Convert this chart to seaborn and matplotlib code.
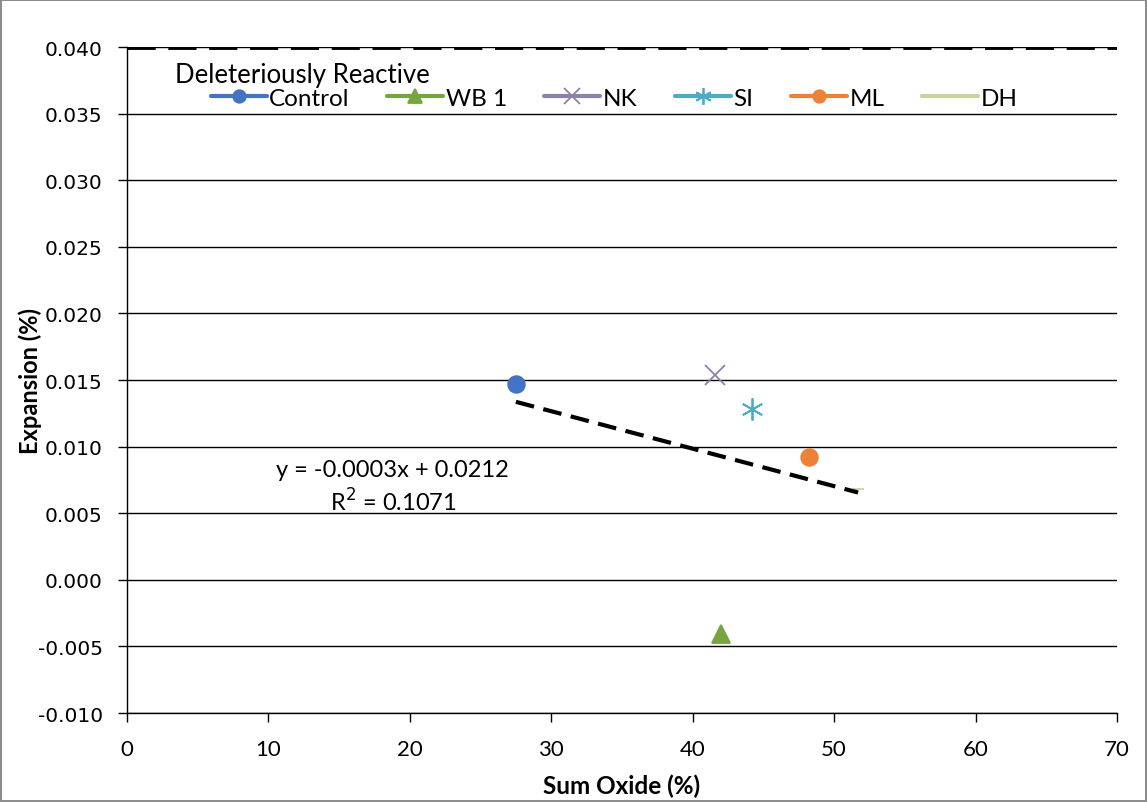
import matplotlib
matplotlib.use("Agg")
import matplotlib.pyplot as plt
import seaborn as sns
import numpy as np

# data
names = ["Control", "WB 1", "NK", "SI", "ML", "DH"]
sum_oxide = [27.5, 42.0, 41.6, 44.2, 48.2, 51.7]
expansion = [0.0147, -0.0041, 0.0154, 0.0128, 0.0092, 0.0068]
reactive_limit = 0.040
trend_label = "y = -0.0003x + 0.0212\nR$^2$ = 0.1071"

colors = ["#4472C4", "#74A53E", "#8E80AE", "#4BACC6", "#EB8238", "#C4D69E"]
markers = ["o", "^", "x", (6, 2, 0), "o", "_"]
msizes = [12, 13, 15, 16, 12, 8]

x_ticks = list(range(0, 71, 10))
y_ticks = [round(-0.010 + 0.005 * i, 3) for i in range(11)]

sns.set_theme(style="white")
narrow = ["Lato", "DejaVu Sans"]
plt.rcParams["font.family"] = narrow
plt.rcParams["text.color"] = "black"
plt.rcParams["axes.labelcolor"] = "black"
plt.rcParams["xtick.color"] = "black"
plt.rcParams["ytick.color"] = "black"

fig = plt.figure(figsize=(11.47, 8.03), dpi=100, linewidth=1.5, edgecolor="#8c8c8c")
ax = fig.add_axes([0.1107, 0.1108, 0.8631, 0.8294])

for name, xv, yv, c, m, ms in zip(names, sum_oxide, expansion, colors, markers, msizes):
    sns.lineplot(x=[xv], y=[yv], ax=ax, color=c, marker=m, markersize=ms,
                 markeredgecolor=c, markeredgewidth=1.3, linewidth=3, label=name)

# linear trend through all points (Excel-style)
sns.regplot(x=sum_oxide, y=expansion, ax=ax, scatter=False, ci=None, truncate=True,
            line_kws=dict(color="black", linestyle=(0, (4.5, 2.3)), linewidth=3))
ax.text(18.8, 0.0070, trend_label, ha="center", va="center", fontsize=17, linespacing=1.3)

ax.axhline(reactive_limit, color="black", linestyle=(0, (5.8, 2.6)), linewidth=3.5, zorder=5)
ax.text(3.4, 0.03737, "Deleteriously Reactive", ha="left", va="baseline", fontsize=18.5)

ax.set_xlim(0, 70)
ax.set_ylim(-0.010, 0.040)
ax.set_xticks(x_ticks)
ax.set_yticks(y_ticks)
ax.set_yticklabels([f"{v:.3f}" for v in y_ticks], family="DejaVu Sans", fontsize=14.5)
ax.set_xticklabels([str(v) for v in x_ticks], fontsize=16)
ax.yaxis.grid(True, color="black", linewidth=1)
ax.tick_params(axis="both", direction="out", length=6.5, width=1, color="black", left=True, bottom=True)
ax.tick_params(axis="y", pad=11)
ax.tick_params(axis="x", pad=12)

for side in ["top", "right"]:
    ax.spines[side].set_visible(False)
for side in ["left", "bottom"]:
    ax.spines[side].set_color("black")
    ax.spines[side].set_linewidth(1)

ax.set_xlabel("Sum Oxide (%)", fontsize=17.5, fontweight="bold", labelpad=11)
ax.set_ylabel("Expansion (%)", fontsize=17, fontweight="bold")
ax.yaxis.set_label_coords(-0.086, 0.5)

ax.legend(loc="center", bbox_to_anchor=(0.492, 0.9234), ncol=6, frameon=False, fontsize=17.5,
          handlelength=2.3, handletextpad=0.1, columnspacing=1.55, markerscale=0.75)

fig.savefig("out.png", dpi=100, edgecolor=fig.get_edgecolor())
